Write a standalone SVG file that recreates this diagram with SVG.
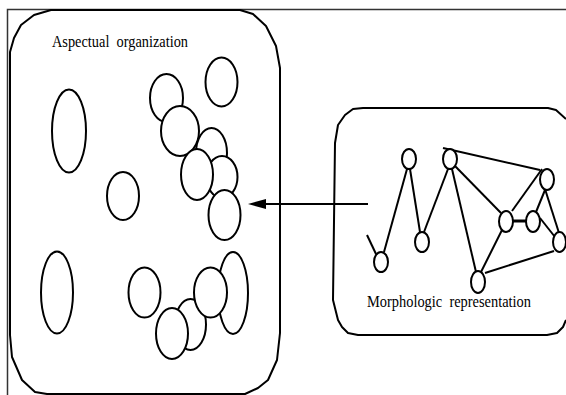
<svg xmlns="http://www.w3.org/2000/svg" width="566" height="395" viewBox="0 0 566 395">
  <defs>
    <style>
      .frame { fill: none; stroke: #333; stroke-width: 1.5; }
      .box { fill: none; stroke: #000; stroke-width: 2; stroke-linejoin: round; }
      .blob { fill: #fff; stroke: #000; stroke-width: 2; }
      .edge { stroke: #000; stroke-width: 2; fill: none; }
      .label { font-family: "Liberation Serif", "Times New Roman", serif; font-size: 17px; fill: #000; white-space: pre; }
    </style>
    <marker id="head" viewBox="0 0 18 10" refX="0" refY="5" markerWidth="18" markerHeight="10" markerUnits="userSpaceOnUse" orient="auto-start-reverse">
      <path d="M0,0 L18,5 L0,10 Z" fill="#000"/>
    </marker>
  </defs>

  <!-- page frame -->
  <path class="frame" d="M7.5,395 V9.5 H566"/>

  <!-- left panel: aspectual organization -->
  <g id="aspectual">
    <path class="box" d="M10,52 L14,38 L21,25 L34,15 L51,10 H240 L253,14 L266,26 L276,46 L280,68 V333 L277,360 L268,380 L258,388 L245,394 H47 L35,392 L22,380 L12,357 L10,335 Z"/>
    <text class="label" x="52" y="46.5" textLength="136" lengthAdjust="spacingAndGlyphs" xml:space="preserve">Aspectual  organization</text>
    <!-- upper cluster -->
    <ellipse class="blob" cx="69" cy="131" rx="17" ry="41.5"/>
    <ellipse class="blob" cx="221.5" cy="82" rx="16" ry="24.5"/>
    <ellipse class="blob" cx="166.5" cy="98" rx="16.5" ry="24"/>
    <ellipse class="blob" cx="180" cy="131" rx="19" ry="25"/>
    <ellipse class="blob" cx="211.5" cy="153" rx="15.5" ry="25"/>
    <ellipse class="blob" cx="222" cy="177" rx="15.5" ry="21"/>
    <ellipse class="blob" cx="197" cy="174.5" rx="16" ry="25.5"/>
    <ellipse class="blob" cx="224.5" cy="215" rx="16" ry="25"/>
    <ellipse class="blob" cx="123" cy="196" rx="16" ry="24"/>
    <!-- lower cluster -->
    <ellipse class="blob" cx="57" cy="292.5" rx="16" ry="41"/>
    <ellipse class="blob" cx="144.5" cy="292.5" rx="16" ry="25"/>
    <ellipse class="blob" cx="190.5" cy="324.5" rx="15.5" ry="25.5"/>
    <ellipse class="blob" cx="172" cy="333.5" rx="16" ry="25.5"/>
    <ellipse class="blob" cx="233" cy="293" rx="15" ry="41"/>
    <ellipse class="blob" cx="210.5" cy="292.5" rx="16.5" ry="25"/>
  </g>

  <!-- right panel: morphologic representation -->
  <g id="morphologic">
    <path class="box" d="M566,119 L556,110 L548,108 H363 L353,109 L345,115 L338,125 L335,143 L333,300 L338,320 L342,327 L348,333 L358,335 H547 L557,333 L563,327 L566,320"/>
    <text class="label" x="367" y="306.5" textLength="164" lengthAdjust="spacingAndGlyphs" xml:space="preserve">Morphologic  representation</text>
    <g id="graph-links">
      <line class="edge" x1="367" y1="235" x2="376" y2="254"/>
      <line class="edge" x1="384" y1="252" x2="407" y2="169"/>
      <line class="edge" x1="410" y1="169" x2="420" y2="232"/>
      <line class="edge" x1="424" y1="232" x2="448" y2="169"/>
      <line class="edge" x1="443" y1="148" x2="540" y2="170"/>
      <line class="edge" x1="455" y1="166" x2="501" y2="213"/>
      <line class="edge" x1="452" y1="169" x2="476" y2="272"/>
      <line class="edge" x1="481" y1="272" x2="502" y2="230"/>
      <line class="edge" x1="512" y1="221" x2="527" y2="221" style="stroke-width:3"/>
      <line class="edge" x1="512" y1="211" x2="542" y2="169"/>
      <line class="edge" x1="536" y1="212" x2="545" y2="190"/>
      <line class="edge" x1="545" y1="189" x2="559" y2="233"/>
      <line class="edge" x1="540" y1="218" x2="555" y2="237"/>
      <line class="edge" x1="485" y1="273" x2="554" y2="251"/>
    </g>
    <g id="graph-nodes">
      <ellipse class="blob" cx="381" cy="262" rx="7" ry="10"/>
      <ellipse class="blob" cx="409" cy="159" rx="7" ry="10"/>
      <ellipse class="blob" cx="422" cy="242" rx="7" ry="10"/>
      <ellipse class="blob" cx="450" cy="159" rx="7" ry="10"/>
      <ellipse class="blob" cx="506" cy="221.5" rx="7" ry="10.5"/>
      <ellipse class="blob" cx="533" cy="221.5" rx="7" ry="10.5"/>
      <ellipse class="blob" cx="547" cy="179.5" rx="7" ry="10.5"/>
      <ellipse class="blob" cx="559.5" cy="242" rx="6.5" ry="10"/>
      <ellipse class="blob" cx="478" cy="282" rx="7" ry="11"/>
    </g>
  </g>

  <!-- connector: morphologic → aspectual -->
  <g id="connectors">
    <line class="edge" x1="368" y1="204" x2="266" y2="204" marker-end="url(#head)"/>
  </g>
</svg>
